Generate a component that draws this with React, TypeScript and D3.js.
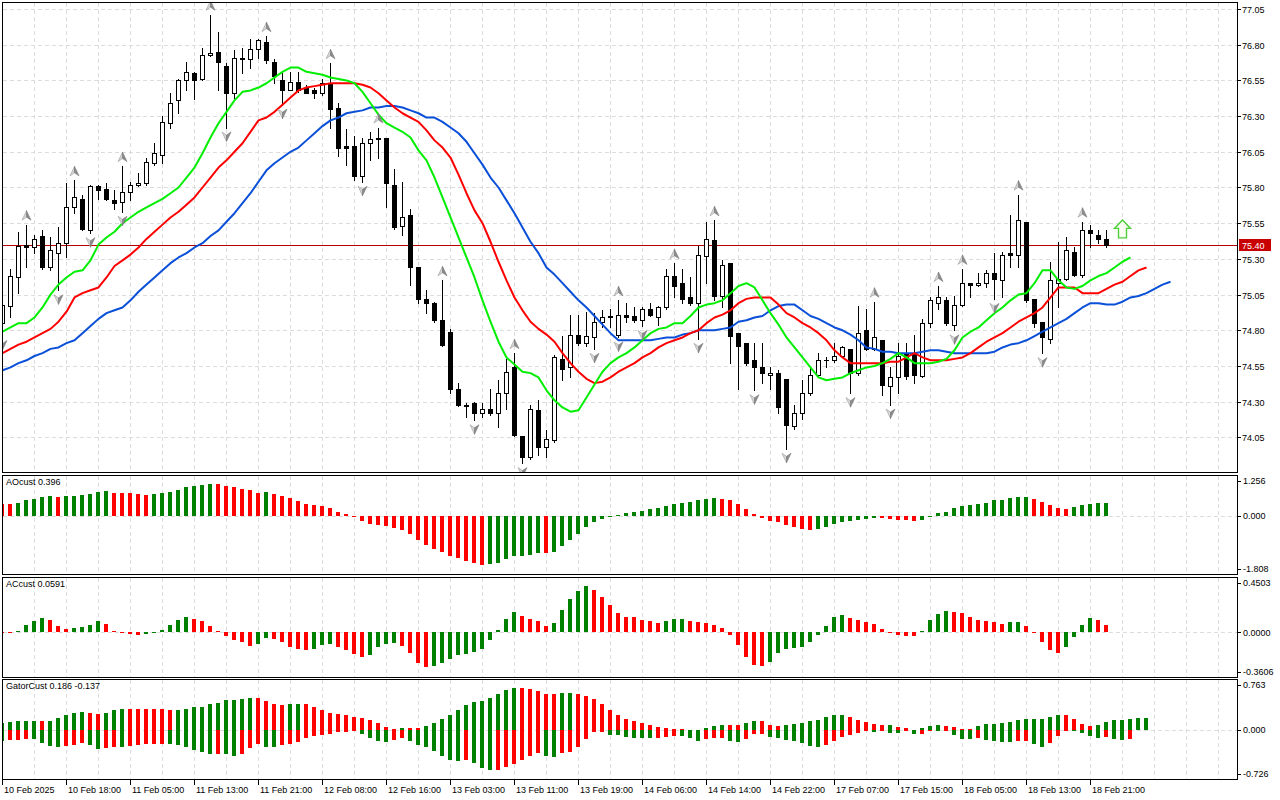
import React from "react";
import * as d3 from "d3";

// ---------------- data ----------------
const timeLabels = [
  "10 Feb 2025", "10 Feb 18:00", "11 Feb 05:00", "11 Feb 13:00", "11 Feb 21:00", "12 Feb 08:00",
  "12 Feb 16:00", "13 Feb 03:00", "13 Feb 11:00", "13 Feb 19:00", "14 Feb 06:00", "14 Feb 14:00",
  "14 Feb 22:00", "17 Feb 07:00", "17 Feb 15:00", "18 Feb 05:00", "18 Feb 13:00", "18 Feb 21:00",
];
const priceTicks = [77.05, 76.8, 76.55, 76.3, 76.05, 75.8, 75.55, 75.3, 75.05, 74.8, 74.55, 74.3, 74.05];
const lastPrice = 75.4;

const openP = [
  74.85, 74.97, 75.17, 75.40, 75.38, 75.46, 75.24, 75.34, 75.41, 75.66,
  75.72, 75.50, 75.81, 75.79, 75.71, 75.70, 75.77, 75.82, 75.83, 75.97,
  76.03, 76.25, 76.41, 76.55, 76.60, 76.56, 76.73, 76.75, 76.65, 76.46,
  76.71, 76.70, 76.77, 76.82, 76.68, 76.55, 76.48, 76.54, 76.50, 76.48,
  76.46, 76.53, 76.36, 76.09, 76.09, 75.88, 76.11, 76.15, 76.15, 75.82,
  75.53, 75.61, 75.24, 75.02, 74.99, 74.87, 74.79, 74.39, 74.28, 74.29,
  74.22, 74.25, 74.22, 74.36, 74.54, 74.06, 73.91, 74.24, 73.98, 74.03,
  74.60, 74.54, 74.77, 74.71, 74.75, 74.86, 74.89, 74.77, 74.91, 74.90,
  74.87, 74.95, 74.89, 74.96, 75.18, 75.13, 75.03, 74.99, 75.32, 75.43,
  75.04, 75.27, 74.78, 74.71, 74.59, 74.54, 74.49, 74.50, 74.46, 74.13,
  74.22, 74.36, 74.49, 74.59, 74.59, 74.62, 74.67, 74.50, 74.80, 74.67,
  74.73, 74.41, 74.47, 74.64, 74.64, 74.48, 74.85, 74.99, 75.01, 74.84,
  74.98, 75.13, 75.12, 75.13, 75.20, 75.15, 75.34, 75.33, 75.56, 75.02,
  74.86, 74.74, 75.13, 75.16, 75.35, 75.19, 75.50, 75.47, 75.44,
];
const highP = [
  75.01, 75.23, 75.49, 75.54, 75.47, 75.50, 75.45, 75.52, 75.83, 75.85,
  75.75, 75.82, 75.82, 75.83, 75.78, 75.95, 75.84, 75.90, 76.01, 76.11,
  76.30, 76.46, 76.56, 76.68, 76.61, 76.78, 77.01, 76.89, 76.67, 76.76,
  76.78, 76.84, 76.84, 76.86, 76.70, 76.61, 76.61, 76.61, 76.52, 76.50,
  76.56, 76.67, 76.39, 76.21, 76.16, 76.15, 76.19, 76.22, 76.15, 75.93,
  75.84, 75.65, 75.24, 75.08, 75.00, 75.15, 74.81, 74.43, 74.29, 74.30,
  74.29, 74.39, 74.45, 74.60, 74.64, 74.06, 74.28, 74.31, 74.10, 74.63,
  74.76, 74.91, 74.91, 74.93, 74.92, 74.94, 74.95, 75.01, 74.99, 74.96,
  74.96, 74.99, 74.97, 75.23, 75.27, 75.23, 75.17, 75.39, 75.56, 75.57,
  75.29, 75.27, 74.78, 74.71, 74.71, 74.71, 74.54, 74.52, 74.46, 74.28,
  74.45, 74.54, 74.64, 74.61, 74.71, 74.69, 74.67, 74.97, 74.95, 75.00,
  74.73, 74.54, 74.71, 74.71, 74.77, 74.88, 75.03, 75.11, 75.03, 75.04,
  75.23, 75.13, 75.20, 75.22, 75.34, 75.35, 75.61, 75.75, 75.56, 75.02,
  74.86, 75.28, 75.42, 75.45, 75.38, 75.56, 75.54, 75.50, 75.50,
];
const lowP = [
  74.76, 74.89, 75.06, 75.24, 75.34, 75.23, 75.22, 75.08, 75.31, 75.62,
  75.50, 75.48, 75.72, 75.71, 75.65, 75.63, 75.71, 75.81, 75.82, 75.96,
  75.97, 76.22, 76.32, 76.48, 76.42, 76.55, 76.72, 76.48, 76.22, 76.43,
  76.60, 76.64, 76.71, 76.67, 76.53, 76.38, 76.48, 76.47, 76.46, 76.43,
  76.45, 76.22, 76.02, 75.96, 75.85, 75.84, 75.99, 76.01, 75.66, 75.51,
  75.47, 75.12, 74.99, 74.92, 74.86, 74.69, 74.36, 74.27, 74.19, 74.17,
  74.19, 74.21, 74.12, 74.25, 74.06, 73.87, 73.90, 73.93, 73.91, 74.02,
  74.45, 74.47, 74.70, 74.69, 74.67, 74.82, 74.82, 74.75, 74.86, 74.86,
  74.83, 74.90, 74.84, 74.95, 75.03, 74.99, 74.98, 74.74, 75.13, 75.01,
  74.96, 74.57, 74.39, 74.56, 74.38, 74.43, 74.39, 74.22, 73.97, 74.11,
  74.18, 74.35, 74.48, 74.54, 74.58, 74.61, 74.36, 74.49, 74.66, 74.66,
  74.35, 74.28, 74.36, 74.46, 74.43, 74.47, 74.82, 74.95, 74.84, 74.80,
  74.97, 75.03, 75.11, 75.10, 75.02, 75.03, 75.24, 75.24, 75.00, 74.82,
  74.64, 74.71, 74.96, 75.15, 75.18, 75.17, 75.38, 75.41, 75.38,
];
const closeP = [
  74.98, 75.18, 75.39, 75.38, 75.44, 75.24, 75.36, 75.41, 75.66, 75.73,
  75.51, 75.81, 75.78, 75.72, 75.69, 75.77, 75.82, 75.83, 75.98, 76.04,
  76.26, 76.39, 76.55, 76.61, 76.55, 76.73, 76.74, 76.68, 76.46, 76.71,
  76.70, 76.77, 76.83, 76.69, 76.58, 76.48, 76.54, 76.48, 76.46, 76.46,
  76.53, 76.35, 76.08, 76.08, 75.88, 76.11, 76.14, 76.14, 75.83, 75.52,
  75.59, 75.24, 75.02, 74.99, 74.87, 74.70, 74.39, 74.28, 74.27, 74.22,
  74.25, 74.22, 74.36, 74.51, 74.07, 73.91, 74.25, 73.98, 74.04, 74.61,
  74.53, 74.77, 74.71, 74.76, 74.86, 74.89, 74.90, 74.91, 74.89, 74.87,
  74.95, 74.91, 74.96, 75.18, 75.11, 75.02, 74.99, 75.33, 75.44, 75.04,
  75.26, 74.76, 74.69, 74.57, 74.54, 74.50, 74.50, 74.26, 74.14, 74.22,
  74.36, 74.49, 74.59, 74.59, 74.62, 74.68, 74.50, 74.78, 74.67, 74.75,
  74.42, 74.47, 74.62, 74.48, 74.49, 74.85, 75.01, 75.03, 74.85, 74.98,
  75.13, 75.12, 75.13, 75.20, 75.16, 75.33, 75.33, 75.57, 75.01, 74.85,
  74.75, 75.15, 75.16, 75.36, 75.19, 75.50, 75.48, 75.44, 75.40,
];

// Alligator lines (already shifted forward: lips 3, teeth 5, jaw 8)
const lips = [
  74.79, 74.82, 74.85, 74.85, 74.89, 74.96, 75.05, 75.12, 75.17, 75.21,
  75.22, 75.29, 75.40, 75.45, 75.49, 75.55, 75.59, 75.63, 75.66, 75.69,
  75.72, 75.76, 75.80, 75.87, 75.94, 76.04, 76.15, 76.25, 76.33, 76.41,
  76.47, 76.48, 76.50, 76.53, 76.57, 76.61, 76.64, 76.64, 76.61, 76.60,
  76.59, 76.57, 76.56, 76.55, 76.53, 76.47, 76.39, 76.31, 76.25, 76.22,
  76.19, 76.15, 76.06, 75.99, 75.87, 75.73, 75.59, 75.45, 75.31, 75.17,
  75.01, 74.86, 74.72, 74.61, 74.56, 74.51, 74.50, 74.47, 74.38, 74.31,
  74.26, 74.23, 74.24, 74.33, 74.42, 74.51, 74.57, 74.61, 74.64, 74.68,
  74.73, 74.78, 74.81, 74.82, 74.85, 74.85, 74.90, 74.96, 74.98, 74.99,
  75.01, 75.06, 75.11, 75.13, 75.10, 75.01, 74.92, 74.84, 74.75, 74.68,
  74.61, 74.54, 74.47, 74.45, 74.46, 74.47, 74.50, 74.52, 74.54, 74.55,
  74.57, 74.60, 74.64, 74.61, 74.57, 74.57, 74.57, 74.58, 74.60, 74.66,
  74.75, 74.79, 74.82, 74.87, 74.92, 74.96, 75.01, 75.05, 75.06, 75.13,
  75.22, 75.22, 75.15, 75.10, 75.09, 75.11, 75.15, 75.18, 75.20, 75.24,
  75.28, 75.31,
];
const teeth = [
  74.64, 74.67, 74.70, 74.72, 74.75, 74.78, 74.81, 74.86, 74.93, 75.03,
  75.06, 75.08, 75.10, 75.17, 75.25, 75.29, 75.33, 75.38, 75.44, 75.49,
  75.54, 75.59, 75.63, 75.68, 75.73, 75.80, 75.87, 75.94, 75.99, 76.05,
  76.11, 76.19, 76.27, 76.29, 76.33, 76.38, 76.43, 76.48, 76.50, 76.51,
  76.52, 76.53, 76.53, 76.53, 76.53, 76.52, 76.50, 76.46, 76.41, 76.36,
  76.32, 76.29, 76.26, 76.20, 76.13, 76.08, 76.01, 75.89, 75.76, 75.64,
  75.55, 75.42, 75.28, 75.15, 75.03, 74.94, 74.86, 74.81, 74.77, 74.72,
  74.64, 74.57, 74.51, 74.46, 74.43, 74.44, 74.47, 74.51, 74.54, 74.57,
  74.61, 74.64, 74.68, 74.71, 74.73, 74.75, 74.78, 74.80, 74.85, 74.89,
  74.91, 74.94, 74.99, 75.02, 75.03, 75.03, 75.03, 74.98, 74.92, 74.89,
  74.85, 74.82, 74.78, 74.73, 74.66, 74.61, 74.57, 74.57, 74.57, 74.57,
  74.57, 74.58, 74.58, 74.61, 74.64, 74.61, 74.59, 74.59, 74.59, 74.60,
  74.61, 74.64, 74.68, 74.72, 74.75, 74.78, 74.82, 74.86, 74.89, 74.92,
  74.96, 75.03, 75.10, 75.10, 75.10, 75.06, 75.06, 75.06, 75.09, 75.12,
  75.14, 75.18, 75.22, 75.24,
];
const jaw = [
  74.52, 74.54, 74.57, 74.59, 74.62, 74.64, 74.67, 74.68, 74.71, 74.73,
  74.78, 74.83, 74.88, 74.92, 74.94, 74.96, 75.01, 75.07, 75.12, 75.17,
  75.22, 75.27, 75.31, 75.34, 75.38, 75.41, 75.46, 75.50, 75.56, 75.62,
  75.69, 75.76, 75.84, 75.92, 75.97, 76.01, 76.05, 76.08, 76.13, 76.18,
  76.23, 76.27, 76.29, 76.32, 76.33, 76.34, 76.36, 76.36, 76.37, 76.37,
  76.36, 76.34, 76.32, 76.29, 76.29, 76.26, 76.22, 76.18, 76.12, 76.04,
  75.96, 75.87, 75.80, 75.71, 75.62, 75.52, 75.42, 75.34, 75.24, 75.19,
  75.13, 75.07, 75.01, 74.96, 74.90, 74.84, 74.78, 74.73, 74.73, 74.73,
  74.73, 74.73, 74.74, 74.75, 74.75, 74.77, 74.78, 74.80, 74.80, 74.80,
  74.81, 74.82, 74.86, 74.87, 74.89, 74.90, 74.94, 74.97, 74.98, 74.98,
  74.94, 74.90, 74.88, 74.85, 74.82, 74.80, 74.77, 74.73, 74.68, 74.67,
  74.65, 74.65, 74.64, 74.64, 74.64, 74.65, 74.66, 74.66, 74.65, 74.64,
  74.64, 74.64, 74.64, 74.64, 74.65, 74.68, 74.70, 74.71, 74.73, 74.76,
  74.79, 74.82, 74.85, 74.88, 74.92, 74.96, 74.99, 74.99, 74.98, 74.98,
  75.00, 75.03, 75.04, 75.06, 75.09, 75.12, 75.14,
];

const fractalUp = [3, 9, 15, 26, 33, 41, 47, 55, 64, 77, 84, 89, 109, 117, 120, 127, 135];
const fractalDown = [0, 7, 11, 15, 28, 35, 45, 59, 65, 74, 77, 80, 87, 94, 98, 106, 111, 119, 124, 130];
const signalBar = 140;
const signalPrice = 75.51;

const aoPrev = 0.39;
const ao = [
  0.38, 0.37, 0.41, 0.48, 0.52, 0.57, 0.60, 0.59, 0.61, 0.63,
  0.66, 0.69, 0.75, 0.76, 0.72, 0.71, 0.70, 0.69, 0.66, 0.69,
  0.70, 0.75, 0.81, 0.90, 0.94, 0.97, 1.00, 0.99, 0.93, 0.90,
  0.84, 0.79, 0.72, 0.75, 0.69, 0.62, 0.54, 0.46, 0.38, 0.32,
  0.29, 0.24, 0.13, 0.04, -0.03, -0.16, -0.26, -0.30, -0.33, -0.39,
  -0.44, -0.58, -0.75, -0.91, -1.04, -1.13, -1.25, -1.32, -1.41, -1.47,
  -1.53, -1.52, -1.47, -1.35, -1.27, -1.25, -1.22, -1.16, -1.17, -1.13,
  -0.94, -0.75, -0.58, -0.36, -0.21, -0.10, -0.02, 0.01, 0.07, 0.13,
  0.16, 0.20, 0.24, 0.30, 0.35, 0.40, 0.44, 0.48, 0.52, 0.54,
  0.51, 0.48, 0.35, 0.20, 0.04, -0.06, -0.16, -0.19, -0.29, -0.36,
  -0.42, -0.46, -0.41, -0.36, -0.27, -0.21, -0.16, -0.13, -0.10, -0.07,
  -0.08, -0.10, -0.13, -0.14, -0.16, -0.13, -0.01, 0.07, 0.12, 0.23,
  0.30, 0.33, 0.38, 0.41, 0.48, 0.49, 0.56, 0.57, 0.58, 0.52,
  0.44, 0.33, 0.25, 0.21, 0.26, 0.33, 0.37, 0.39, 0.40,
];
const acPrev = 0.008;
const ac = [
  0.006, 0.003, 0.013, 0.062, 0.094, 0.118, 0.102, 0.051, 0.029, 0.038,
  0.043, 0.062, 0.094, 0.070, 0.013, 0.005, -0.011, -0.020, -0.016, -0.003,
  0.019, 0.059, 0.102, 0.123, 0.110, 0.094, 0.054, 0.016, -0.027, -0.059,
  -0.075, -0.107, -0.091, -0.043, -0.051, -0.080, -0.118, -0.139, -0.145, -0.139,
  -0.102, -0.091, -0.115, -0.147, -0.180, -0.198, -0.182, -0.123, -0.091, -0.086,
  -0.107, -0.166, -0.247, -0.279, -0.276, -0.247, -0.214, -0.188, -0.174, -0.158,
  -0.134, -0.059, 0.019, 0.107, 0.164, 0.139, 0.107, 0.091, 0.051, 0.075,
  0.188, 0.273, 0.340, 0.378, 0.349, 0.290, 0.228, 0.161, 0.129, 0.123,
  0.099, 0.091, 0.075, 0.091, 0.107, 0.110, 0.094, 0.083, 0.075, 0.059,
  0.035, -0.021, -0.102, -0.198, -0.263, -0.271, -0.239, -0.166, -0.139, -0.131,
  -0.123, -0.075, -0.019, 0.051, 0.123, 0.147, 0.115, 0.102, 0.083, 0.067,
  0.027, -0.003, -0.019, -0.027, -0.029, 0.011, 0.099, 0.155, 0.174, 0.164,
  0.161, 0.123, 0.099, 0.091, 0.086, 0.067, 0.083, 0.086, 0.051, -0.003,
  -0.075, -0.147, -0.172, -0.123, -0.035, 0.059, 0.115, 0.099, 0.059,
];
const gatorUpPrev = 0.1;
const gatorUp = [
  0.111, 0.121, 0.136, 0.137, 0.138, 0.136, 0.137, 0.182, 0.232, 0.263,
  0.273, 0.263, 0.242, 0.263, 0.303, 0.318, 0.317, 0.316, 0.315, 0.314,
  0.313, 0.303, 0.310, 0.312, 0.343, 0.354, 0.389, 0.404, 0.455, 0.456,
  0.465, 0.485, 0.484, 0.434, 0.389, 0.379, 0.394, 0.395, 0.393, 0.354,
  0.303, 0.258, 0.247, 0.227, 0.192, 0.177, 0.152, 0.111, 0.045, 0.020,
  0.040, 0.038, 0.036, 0.061, 0.111, 0.167, 0.232, 0.303, 0.379, 0.419,
  0.434, 0.485, 0.545, 0.606, 0.636, 0.635, 0.616, 0.586, 0.545, 0.544,
  0.556, 0.566, 0.545, 0.520, 0.470, 0.394, 0.303, 0.232, 0.167, 0.141,
  0.111, 0.081, 0.051, 0.030, 0.015, 0.014, 0.006, 0.004, 0.030, 0.066,
  0.076, 0.075, 0.074, 0.111, 0.136, 0.135, 0.081, 0.070, 0.085, 0.091,
  0.106, 0.136, 0.152, 0.197, 0.227, 0.228, 0.197, 0.152, 0.121, 0.091,
  0.074, 0.077, 0.045, 0.030, 0.005, 0.030, 0.061, 0.076, 0.061, 0.045,
  0.015, 0.014, 0.061, 0.091, 0.092, 0.106, 0.121, 0.152, 0.167, 0.168,
  0.169, 0.197, 0.227, 0.226, 0.167, 0.091, 0.061, 0.076, 0.121, 0.152,
  0.153, 0.167, 0.182, 0.186,
];
const gatorDownPrev = -0.15;
const gatorDown = [
  -0.162, -0.146, -0.141, -0.136, -0.137, -0.192, -0.237, -0.253, -0.237, -0.222,
  -0.192, -0.222, -0.288, -0.273, -0.253, -0.254, -0.237, -0.222, -0.212, -0.211,
  -0.210, -0.212, -0.222, -0.253, -0.303, -0.328, -0.354, -0.353, -0.364, -0.389,
  -0.364, -0.273, -0.212, -0.253, -0.254, -0.222, -0.212, -0.177, -0.111, -0.086,
  -0.071, -0.056, -0.030, -0.020, -0.010, -0.056, -0.116, -0.162, -0.182, -0.146,
  -0.121, -0.162, -0.222, -0.253, -0.313, -0.389, -0.455, -0.465, -0.455, -0.490,
  -0.566, -0.601, -0.595, -0.556, -0.510, -0.455, -0.389, -0.343, -0.394, -0.404,
  -0.338, -0.328, -0.253, -0.126, -0.025, -0.024, -0.071, -0.072, -0.101, -0.111,
  -0.112, -0.113, -0.111, -0.096, -0.086, -0.087, -0.111, -0.162, -0.136, -0.121,
  -0.111, -0.162, -0.177, -0.136, -0.051, -0.050, -0.101, -0.121, -0.146, -0.167,
  -0.192, -0.237, -0.253, -0.227, -0.167, -0.101, -0.076, -0.040, -0.010, -0.025,
  -0.003, -0.040, -0.042, -0.002, -0.056, -0.055, -0.010, -0.012, -0.005, -0.071,
  -0.131, -0.132, -0.116, -0.152, -0.162, -0.182, -0.183, -0.167, -0.166, -0.212,
  -0.258, -0.197, -0.091, -0.005, -0.015, -0.040, -0.086, -0.116, -0.101, -0.131,
  -0.146, -0.137,
];

const aoScale = [-1.808, 1.256];
const acScale = [-0.3606, 0.4503];
const gatorScale = [-0.726, 0.763];
const aoAxisLabels = ["1.256", "0.000", "-1.808"];
const acAxisLabels = ["0.4503", "0.0000", "-0.3606"];
const gatorAxisLabels = ["0.763", "0.000", "-0.726"];
const aoTitle = "AOcust 0.396";
const acTitle = "ACcust 0.0591";
const gatorTitle = "GatorCust 0.186 -0.137";

// ---------------- drawing ----------------
const FONT = "'Liberation Sans', Arial, sans-serif";
const GRID = "#dcdcdc";
const UPC = "#008000";
const DNC = "#ff0000";
const LEFT = 2;
const RIGHT = 1237;

type Panel = {
  id: string;
  top: number;
  bottom: number;
  domain: number[];
  axis: string[];
  title: string;
};

const panels: Panel[] = [
  { id: "ao", top: 475, bottom: 574, domain: aoScale, axis: aoAxisLabels, title: aoTitle },
  { id: "ac", top: 577, bottom: 677, domain: acScale, axis: acAxisLabels, title: acTitle },
  { id: "gator", top: 679, bottom: 779, domain: gatorScale, axis: gatorAxisLabels, title: gatorTitle },
];

function upColors(vals: number[], prev: number, useAbs = false) {
  return vals.map((v, i) => {
    const p = i === 0 ? prev : vals[i - 1];
    const a = useAbs ? Math.abs(v) : v;
    const b = useAbs ? Math.abs(p) : p;
    return a >= b ? UPC : DNC;
  });
}

export default function App() {
  const W = 1280;
  const H = 800;
  const nBars = openP.length;
  const xs = d3.scaleLinear().domain([0, nBars - 1]).range([2.5, 2.5 + 8 * (nBars - 1)]);
  const yP = d3.scaleLinear().domain([74.05, 77.05]).range([437.4, 9]);

  const vGrid: number[] = d3.range(1, 39).map((k) => 2.5 + 32 * k);

  const lineGen = d3
    .line<number>()
    .x((_, i) => xs(i))
    .y((d) => yP(d));

  const candleEls = openP.map((o, i) => {
    const c = closeP[i];
    const hi = highP[i];
    const lo = lowP[i];
    const cx = xs(i);
    const yH = Math.round(yP(hi));
    const yL = Math.round(yP(lo));
    const yT = Math.round(yP(Math.max(o, c)));
    const yB = Math.round(yP(Math.min(o, c)));
    const els: any[] = [
      <line key="w" x1={cx} x2={cx} y1={yH} y2={yL + 1} stroke="#000" strokeWidth={1} />,
    ];
    if (c > o && yB - yT >= 2) {
      els.push(
        <rect key="b" x={cx - 2} y={yT + 0.5} width={4} height={yB - yT} fill="#fff" stroke="#000" strokeWidth={1} />
      );
    } else if (yB - yT >= 1) {
      els.push(<rect key="b" x={cx - 2.5} y={yT} width={5} height={yB - yT + 1} fill="#000" />);
    } else {
      els.push(<line key="b" x1={cx - 2.5} x2={cx + 2.5} y1={yT + 0.5} y2={yT + 0.5} stroke="#000" strokeWidth={1} />);
    }
    return <g key={i}>{els}</g>;
  });

  const upArrow = (cx: number, cy: number, key: string) => (
    <g key={key} transform={`translate(${cx},${cy})`}>
      <path d="M0,-5 L-4.5,4.5 L0,1.5 Z" fill="#d6d6d6" stroke="#9a9a9a" strokeWidth={0.6} />
      <path d="M0,-5 L4.5,4.5 L0,1.5 Z" fill="#8a8a8a" stroke="#7a7a7a" strokeWidth={0.6} />
    </g>
  );
  const downArrow = (cx: number, cy: number, key: string) => (
    <g key={key} transform={`translate(${cx},${cy})`}>
      <path d="M0,5 L-4.5,-4.5 L0,-1.5 Z" fill="#d6d6d6" stroke="#9a9a9a" strokeWidth={0.6} />
      <path d="M0,5 L4.5,-4.5 L0,-1.5 Z" fill="#8a8a8a" stroke="#7a7a7a" strokeWidth={0.6} />
    </g>
  );

  const lastY = Math.round(yP(lastPrice)) + 0.5;
  const sigX = xs(signalBar);
  const sigY = yP(signalPrice);

  const barSeries = (vals: number[], colors: string[], ys: d3.ScaleLinear<number, number>, key: string) => {
    const y0 = ys(0);
    return vals.map((v, i) => {
      const y1 = ys(v);
      const top = Math.round(Math.min(y0, y1));
      const bot = Math.round(Math.max(y0, y1));
      const h = Math.max(1, bot - top);
      const left = Math.round(xs(i) - 2.5);
      return <rect key={key + i} x={left} y={top} width={4} height={h} fill={colors[i]} />;
    });
  };

  const panelEls = panels.map((p) => {
    const ys = d3.scaleLinear().domain(p.domain).range([p.bottom - 0.5, p.top + 0.5]);
    const zeroY = Math.round(ys(0)) + 0.5;
    let bars: any[] = [];
    if (p.id === "ao") bars = barSeries(ao, upColors(ao, aoPrev), ys, "ao");
    if (p.id === "ac") bars = barSeries(ac, upColors(ac, acPrev), ys, "ac");
    if (p.id === "gator") {
      bars = [
        ...barSeries(gatorUp, upColors(gatorUp, gatorUpPrev, true), ys, "gu"),
        ...barSeries(gatorDown, upColors(gatorDown, gatorDownPrev, true), ys, "gd"),
      ];
    }
    const labelYs = [p.top + 6, ys(0), p.bottom - 5];
    return (
      <g key={p.id}>
        <clipPath id={"clip-" + p.id}>
          <rect x={LEFT + 1} y={p.top + 1} width={RIGHT - LEFT - 1} height={p.bottom - p.top - 1} />
        </clipPath>
        <g clipPath={`url(#clip-${p.id})`}>
          {vGrid.map((gx) => (
            <line key={gx} x1={gx} x2={gx} y1={p.top + 1} y2={p.bottom} stroke={GRID} strokeDasharray="4,3" />
          ))}
          <line x1={LEFT + 1} x2={RIGHT} y1={zeroY} y2={zeroY} stroke={GRID} strokeDasharray="4,3" />
          {bars}
        </g>
        <rect x={LEFT + 0.5} y={p.top + 0.5} width={RIGHT - LEFT} height={p.bottom - p.top} fill="none" stroke="#000" strokeWidth={1} />
        <text x={6} y={p.top + 10} fontFamily={FONT} fontSize={9} fill="#000">
          {p.title}
        </text>
        {p.axis.map((t, k) => (
          <g key={t}>
            <line x1={RIGHT} x2={RIGHT + 4} y1={Math.round(labelYs[k]) + 0.5} y2={Math.round(labelYs[k]) + 0.5} stroke="#000" />
            <text x={RIGHT + 6} y={labelYs[k]} dy="0.35em" fontFamily={FONT} fontSize={9} fill="#000">
              {t}
            </text>
          </g>
        ))}
      </g>
    );
  });

  return (
    <svg
      width={W}
      height={H}
      viewBox={`0 0 ${W} ${H}`}
      style={{ position: "absolute", left: 0, top: 0, background: "#fff", display: "block" }}
    >
      <rect x={0} y={0} width={W} height={H} fill="#fff" />
      <defs>
        <clipPath id="clip-main">
          <rect x={LEFT + 1} y={3} width={RIGHT - LEFT - 1} height={469} />
        </clipPath>
      </defs>

      {/* main chart */}
      <g clipPath="url(#clip-main)">
        {vGrid.map((gx) => (
          <line key={"v" + gx} x1={gx} x2={gx} y1={3} y2={472} stroke={GRID} strokeDasharray="4,3" />
        ))}
        {priceTicks.map((t) => {
          const gy = Math.round(yP(t)) + 0.5;
          return <line key={"h" + t} x1={LEFT + 1} x2={RIGHT} y1={gy} y2={gy} stroke={GRID} strokeDasharray="4,3" />;
        })}
        <line x1={LEFT + 1} x2={RIGHT} y1={lastY} y2={lastY} stroke="#b40000" strokeWidth={1} />
        {candleEls}
        <path d={lineGen(jaw) || ""} fill="none" stroke="#0a4fd8" strokeWidth={2} strokeLinejoin="round" />
        <path d={lineGen(teeth) || ""} fill="none" stroke="#ff0000" strokeWidth={2} strokeLinejoin="round" />
        <path d={lineGen(lips) || ""} fill="none" stroke="#00ee00" strokeWidth={2} strokeLinejoin="round" />
        {fractalUp.map((i) => upArrow(xs(i), yP(highP[i]) - 9, "fu" + i))}
        {fractalDown.map((i) => downArrow(xs(i), yP(lowP[i]) + 9, "fd" + i))}
        <path
          transform={`translate(${sigX},${sigY})`}
          d="M0,-9 L8,-0.5 L4,-0.5 L4,9 L-4,9 L-4,-0.5 L-8,-0.5 Z"
          fill="#fbfff4"
          stroke="#4fcf3a"
          strokeWidth={1.4}
          strokeLinejoin="miter"
        />
      </g>
      <rect x={LEFT + 0.5} y={2.5} width={RIGHT - LEFT} height={470} fill="none" stroke="#000" strokeWidth={1} />

      {/* price axis */}
      {priceTicks.map((t) => {
        const gy = Math.round(yP(t)) + 0.5;
        return (
          <g key={"pt" + t}>
            <line x1={RIGHT} x2={RIGHT + 4} y1={gy} y2={gy} stroke="#000" />
            <text x={RIGHT + 5} y={gy} dy="0.35em" fontFamily={FONT} fontSize={9} fill="#000">
              {t.toFixed(2)}
            </text>
          </g>
        );
      })}
      <rect x={RIGHT + 2} y={lastY - 6.5} width={32} height={12} fill="#c80000" />
      <text x={RIGHT + 5} y={lastY} dy="0.35em" fontFamily={FONT} fontSize={9} fill="#fff">
        {lastPrice.toFixed(2)}
      </text>

      {panelEls}

      {/* time axis */}
      {timeLabels.map((lab, k) => {
        const tx = Math.round(xs(8 * k) - 0.5) + 0.5;
        return (
          <g key={lab}>
            <line x1={tx} x2={tx} y1={779} y2={785} stroke="#000" />
            <text x={tx + 1.5} y={793} fontFamily={FONT} fontSize={9} fill="#000">
              {lab}
            </text>
          </g>
        );
      })}
    </svg>
  );
}
